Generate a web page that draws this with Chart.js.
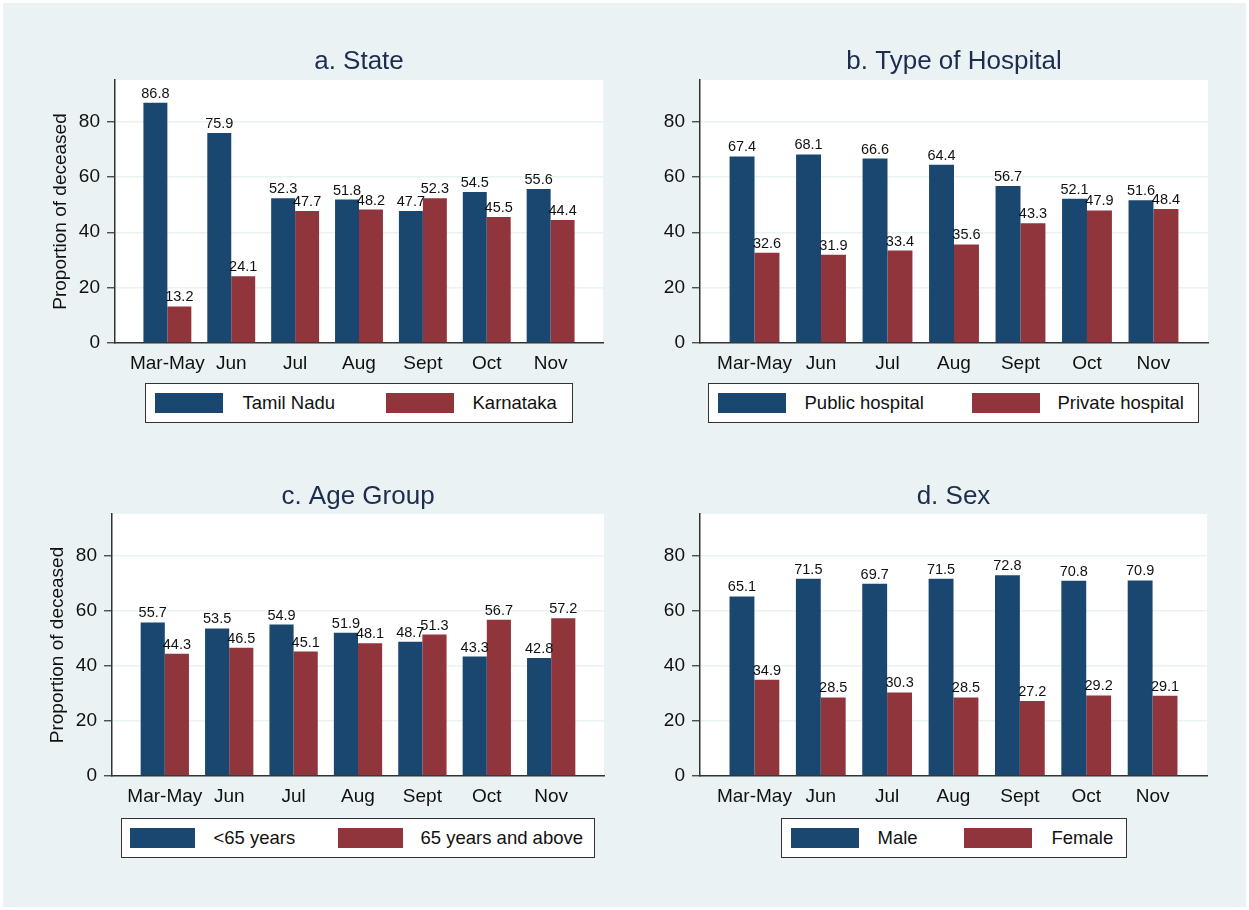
<!DOCTYPE html>
<html>
<head>
<meta charset="utf-8">
<script src="https://cdn.jsdelivr.net/npm/chart.js@4.4.0/dist/chart.umd.min.js"></script>
<style>
  html, body { margin: 0; padding: 0; background: #fff; }
  #page { position: relative; width: 1249px; height: 910px; overflow: hidden; }
  #bg { position: absolute; left: 3px; top: 3px; width: 1243px; height: 904px; background: #eaf2f3; }
  .panel { position: absolute; }
  .legend { position: absolute; background: #fff; border: 1.5px solid #333; box-sizing: border-box;
            font-family: "Liberation Sans", Arial, sans-serif; font-size: 18.5px; color: #111; }
  .legend .sw { position: absolute; top: 9px; height: 20px; }
  .legend .tx { position: absolute; top: 0; line-height: 37px; white-space: nowrap; }
</style>
</head>
<body>
<div id="page">
  <div id="bg"></div>
</div>
<script>
// month groups on the x axis
const months = ["Mar-May", "Jun", "Jul", "Aug", "Sept", "Oct", "Nov"];
const yTicks = [0, 20, 40, 60, 80];

// a. State
const stateTamilNadu = [86.8, 75.9, 52.3, 51.8, 47.7, 54.5, 55.6];
const stateKarnataka = [13.2, 24.1, 47.7, 48.2, 52.3, 45.5, 44.4];
// b. Type of hospital
const hospPublic = [67.4, 68.1, 66.6, 64.4, 56.7, 52.1, 51.6];
const hospPrivate = [32.6, 31.9, 33.4, 35.6, 43.3, 47.9, 48.4];
// c. Age group
const ageUnder65 = [55.7, 53.5, 54.9, 51.9, 48.7, 43.3, 42.8];
const age65Plus = [44.3, 46.5, 45.1, 48.1, 51.3, 56.7, 57.2];
// d. Sex
const sexMale = [65.1, 71.5, 69.7, 71.5, 72.8, 70.8, 70.9];
const sexFemale = [34.9, 28.5, 30.3, 28.5, 27.2, 29.2, 29.1];

const BLUE = "#1a476f";
const RED = "#90353b";
const FONT = '"Liberation Sans", Arial, sans-serif';
const Y_W = 75;   // fixed width of y axis box
const X_H = 40;   // fixed height of x axis box

const panels = [
  { title: "a. State", names: ["Tamil Nadu", "Karnataka"], series: [stateTamilNadu, stateKarnataka], yTitle: true,
    box: { x: 0, y: 0, w: 620, h: 450 }, plot: { l: 115, r: 603, t: 80, b: 343 }, titleY: 62,
    legend: { l: 145, t: 383, w: 428, sw: [10, 241], tx: [98, 328], swW: 68 } },
  { title: "b. Type of Hospital", names: ["Public hospital", "Private hospital"], series: [hospPublic, hospPrivate], yTitle: false,
    box: { x: 620, y: 0, w: 629, h: 450 }, plot: { l: 700, r: 1208, t: 80, b: 343 }, titleY: 62,
    legend: { l: 708, t: 383, w: 491, sw: [10, 264], tx: [97, 350], swW: 68 } },
  { title: "c. Age Group", names: ["<65 years", "65 years and above"], series: [ageUnder65, age65Plus], yTitle: true,
    box: { x: 0, y: 450, w: 620, h: 460 }, plot: { l: 112, r: 604, t: 514, b: 776 }, titleY: 497,
    legend: { l: 121, t: 818, w: 474, sw: [9, 217], tx: [93, 300], swW: 65 } },
  { title: "d. Sex", names: ["Male", "Female"], series: [sexMale, sexFemale], yTitle: false,
    box: { x: 620, y: 450, w: 629, h: 460 }, plot: { l: 700, r: 1207, t: 514, b: 776 }, titleY: 497,
    legend: { l: 781, t: 818, w: 346, sw: [10, 183], tx: [97, 271], swW: 68 } }
];

const plotBg = {
  id: "plotBg",
  beforeDraw(chart) {
    const a = chart.chartArea;
    chart.ctx.save();
    chart.ctx.fillStyle = "#fff";
    chart.ctx.fillRect(a.left, a.top, a.right - a.left, a.bottom - a.top);
    chart.ctx.restore();
  }
};

const valueLabels = {
  id: "valueLabels",
  afterDatasetsDraw(chart) {
    const ctx = chart.ctx;
    ctx.save();
    ctx.font = "14.5px " + FONT;
    ctx.fillStyle = "#111";
    ctx.textAlign = "center";
    ctx.textBaseline = "alphabetic";
    chart.data.datasets.forEach(function (ds, i) {
      chart.getDatasetMeta(i).data.forEach(function (bar, j) {
        ctx.fillText(ds.data[j].y.toFixed(1), bar.x, bar.y - 5);
      });
    });
    ctx.restore();
  }
};

const page = document.getElementById("page");

panels.forEach(function (p) {
  const wrap = document.createElement("div");
  wrap.className = "panel";
  wrap.style.left = p.box.x + "px";
  wrap.style.top = p.box.y + "px";
  wrap.style.width = p.box.w + "px";
  wrap.style.height = p.box.h + "px";
  const canvas = document.createElement("canvas");
  wrap.appendChild(canvas);
  page.appendChild(wrap);

  const titleLH = 26 * 1.2;
  const titleTop = p.titleY - p.box.y - titleLH / 2;
  const titleBottom = p.plot.t - p.box.y - titleTop - titleLH;

  new Chart(canvas, {
    type: "bar",
    data: {
      datasets: p.series.map(function (vals, k) {
        return {
          label: p.names[k],
          data: vals.map(function (v, i) { return { x: i, y: v }; }),
          backgroundColor: k === 0 ? BLUE : RED,
          borderWidth: 0
        };
      })
    },
    options: {
      responsive: true,
      maintainAspectRatio: false,
      animation: false,
      layout: {
        padding: {
          left: p.plot.l - p.box.x - Y_W,
          right: p.box.x + p.box.w - p.plot.r,
          top: 0,
          bottom: p.box.y + p.box.h - p.plot.b - X_H
        }
      },
      datasets: { bar: { categoryPercentage: 0.75, barPercentage: 1 } },
      plugins: {
        legend: { display: false },
        tooltip: { enabled: false },
        title: {
          display: true,
          text: p.title,
          fullSize: false,
          color: "#1c2d4f",
          font: { family: FONT, size: 26, weight: "normal", lineHeight: 1.2 },
          padding: { top: titleTop, bottom: titleBottom }
        }
      },
      scales: {
        x: {
          type: "linear",
          offset: false,
          min: -0.82,
          max: 6.82,
          afterBuildTicks: function (s) { s.ticks = months.map(function (m, i) { return { value: i }; }); },
          afterFit: function (s) { s.height = X_H; },
          grid: { display: true, drawOnChartArea: false, drawTicks: false },
          border: { display: true, color: "#333", width: 1.5 },
          ticks: {
            autoSkip: false,
            maxRotation: 0,
            padding: 9,
            color: "#111",
            font: { family: FONT, size: 19 },
            callback: function (v) { return months[v] !== undefined ? months[v] : ""; }
          }
        },
        y: {
          min: 0,
          max: 95,
          afterBuildTicks: function (s) { s.ticks = yTicks.map(function (v) { return { value: v }; }); },
          afterFit: function (s) { s.width = Y_W; },
          grid: {
            color: function (c) { return c.tick && c.tick.value === 0 ? "rgba(0,0,0,0)" : "#eaf2f3"; },
            lineWidth: 1.5,
            tickLength: 8,
            tickColor: "#333",
            tickWidth: 1.2
          },
          border: { display: true, color: "#333", width: 1.5 },
          ticks: {
            padding: 7,
            color: "#111",
            font: { family: FONT, size: 19 }
          },
          title: {
            display: p.yTitle,
            text: "Proportion of deceased",
            color: "#111",
            font: { family: FONT, size: 19 },
            padding: { top: 9.6, bottom: 0 }
          }
        }
      }
    },
    plugins: [plotBg, valueLabels]
  });

  // legend box under each panel
  const lg = document.createElement("div");
  lg.className = "legend";
  lg.style.left = p.legend.l + "px";
  lg.style.top = p.legend.t + "px";
  lg.style.width = p.legend.w + "px";
  lg.style.height = "40px";
  p.names.forEach(function (name, k) {
    const sw = document.createElement("div");
    sw.className = "sw";
    sw.style.left = (p.legend.sw[k] - 1.5) + "px";
    sw.style.width = p.legend.swW + "px";
    sw.style.background = k === 0 ? BLUE : RED;
    lg.appendChild(sw);
    const tx = document.createElement("div");
    tx.className = "tx";
    tx.style.left = (p.legend.tx[k] - 1.5) + "px";
    tx.textContent = name;
    lg.appendChild(tx);
  });
  page.appendChild(lg);
});
</script>
</body>
</html>
